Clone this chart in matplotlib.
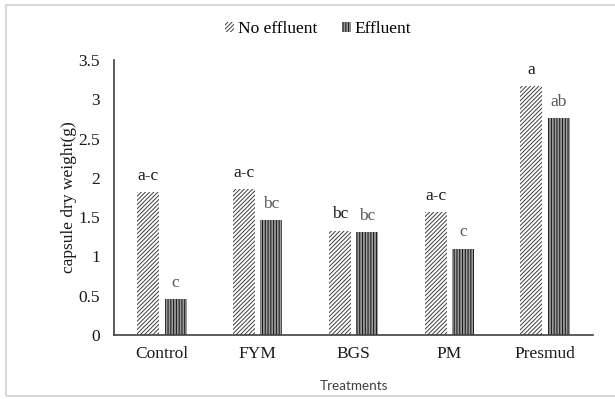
import numpy as np
import matplotlib.pyplot as plt
from matplotlib.patches import Rectangle

treatments = ["Control", "FYM", "BGS", "PM", "Presmud"]
no_effluent = [1.82, 1.86, 1.33, 1.565, 3.17]
effluent = [0.46, 1.46, 1.31, 1.10, 2.76]
no_effluent_letters = ["a-c", "a-c", "bc", "a-c", "a"]
effluent_letters = ["c", "bc", "bc", "c", "ab"]

plt.rcParams['hatch.linewidth'] = 0.7
serif = "Liberation Serif"
fs = 12.5

fig = plt.figure(figsize=(6.15, 3.99), dpi=100)
ax = fig.add_axes([0.1854, 0.1604, 0.7788, 0.6892])

x = np.arange(len(treatments))
w = 0.23
off = 0.143

b1 = ax.bar(x - off, no_effluent, w, color="white", edgecolor="#3d3d3d",
            hatch="////////", linewidth=0, label="No effluent")
b2 = ax.bar(x + off, effluent, w, color="#9a9a9a", edgecolor="#111111",
            hatch="||||||", linewidth=0, label="Effluent")

for xi, v, t in zip(x - off, no_effluent, no_effluent_letters):
    ax.annotate(t, (xi, v), xytext=(0, 6), textcoords="offset points",
                ha="center", va="bottom", fontsize=fs, family=serif, color="#1a1a1a")
for xi, v, t in zip(x + off, effluent, effluent_letters):
    ax.annotate(t, (xi, v), xytext=(0, 6), textcoords="offset points",
                ha="center", va="bottom", fontsize=fs, family=serif, color="#595959")

ax.set_xlim(-0.5, len(treatments) - 0.5)
ax.set_ylim(0, 3.5)
ax.set_yticks(np.arange(0, 3.51, 0.5))
ax.set_yticklabels(["0", "0.5", "1", "1.5", "2", "2.5", "3", "3.5"])
ax.set_xticks(x)
ax.set_xticklabels(treatments)
ax.tick_params(length=0, labelsize=fs)
ax.tick_params(axis="y", pad=10)
ax.tick_params(axis="x", pad=8)
for lab in ax.get_xticklabels() + ax.get_yticklabels():
    lab.set_family(serif)
    lab.set_color("#1a1a1a")

for s in ["top", "right"]:
    ax.spines[s].set_visible(False)
for s in ["left", "bottom"]:
    ax.spines[s].set_color("#404040")
    ax.spines[s].set_linewidth(1.2)

ax.set_ylabel("capsule dry weight(g)", fontsize=fs, family=serif, color="#1a1a1a")
ax.yaxis.set_label_coords(-0.078, 0.5)
ax.set_xlabel("Treatments", fontsize=9.7, family="Lato", color="#404040")
ax.xaxis.set_label_coords(0.5, -0.165)

fig.legend(handles=[b1, b2], loc="center", bbox_to_anchor=(318 / 615, 1 - 29 / 399),
           ncol=2, frameon=False, handlelength=0.55, handleheight=0.55,
           handletextpad=0.2, columnspacing=1.4, prop={"family": serif, "size": fs})

# light chart-area frame
fig.add_artist(Rectangle((6 / 615, 3 / 399), 1.0, 1 - 8 / 399, transform=fig.transFigure,
                         fill=False, edgecolor="#d9d9d9", linewidth=1.5))

fig.savefig("out.png", dpi=100)
